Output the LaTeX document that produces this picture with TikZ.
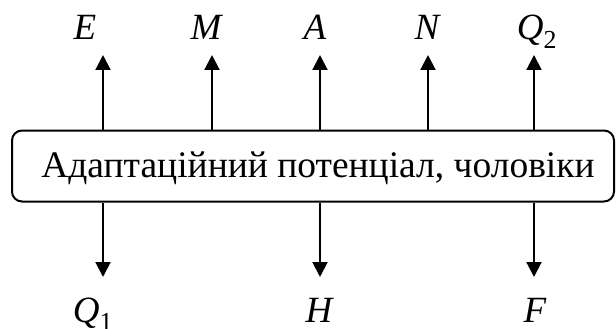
\documentclass[tikz,border=0pt]{standalone}
\usepackage{fontspec}
\setmainfont{Liberation Serif}
\usetikzlibrary{arrows.meta}
\begin{document}
\begin{tikzpicture}[x=1pt,y=-1pt,
  box/.style={draw, line width=2pt, rounded corners=10pt,
    minimum width=602pt, minimum height=71pt, inner sep=0pt},
  title/.style={inner sep=0pt, font=\fontsize{37.5}{40}\selectfont, anchor=base},
  lbl/.style={inner sep=0pt, font=\fontsize{37}{40}\selectfont\itshape,
    text height=24pt, text depth=0pt, anchor=base},
  link/.style={line width=2pt, -{Triangle[length=15pt,width=15pt]}}]
\useasboundingbox (0,0) rectangle (616,329);

% central block and its caption
\node[box] (pot) at (313,166) {};
\node[title] (potname) at (318,177) {Адаптаційний потенціал, чоловіки};

% outputs above the block
\node[lbl] (E)  at (85,40)  {E};
\node[lbl] (M)  at (206,40) {M};
\node[lbl] (A)  at (315,40) {A};
\node[lbl] (N)  at (427,40) {N};
\node[lbl] (Q2) at (537,40) {Q\textsubscript{\upshape 2}};

% outputs below the block
\node[lbl] (Q1) at (93,322)  {Q\textsubscript{\upshape 1}};
\node[lbl] (H)  at (319,322) {H};
\node[lbl] (F)  at (535,322) {F};

% arrow tips
\coordinate (tE)  at (103,55);
\coordinate (tM)  at (212,55);
\coordinate (tA)  at (320,55);
\coordinate (tN)  at (428,55);
\coordinate (tQ2) at (534,55);
\coordinate (tQ1) at (103,277);
\coordinate (tH)  at (320,277);
\coordinate (tF)  at (534,277);

\foreach \t in {tE,tM,tA,tN,tQ2}
  \draw[link] (pot.north -| \t) -- (\t);
\foreach \t in {tQ1,tH,tF}
  \draw[link] (pot.south -| \t) -- (\t);
\end{tikzpicture}
\end{document}
